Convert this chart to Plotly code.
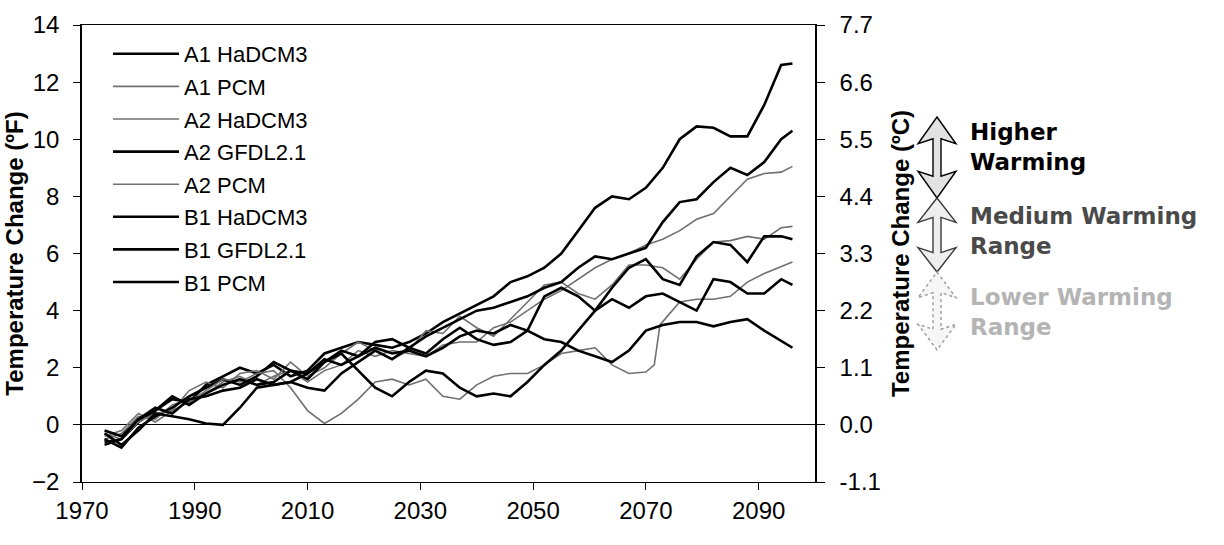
import plotly.graph_objects as go

# ---------------- data ----------------
YEARS = [1974, 1977, 1980, 1983, 1986, 1989, 1992, 1995, 1998, 2001, 2004, 2007,
         2010, 2013, 2016, 2019, 2022, 2025, 2028, 2031, 2034, 2037, 2040, 2043,
         2046, 2049, 2052, 2055, 2058, 2061, 2064, 2067, 2070, 2073, 2076, 2079,
         2082, 2085, 2088, 2091, 2094, 2096]

A1_HADCM3 = [-0.7, -0.5, 0.1, 0.5, 0.9, 0.8, 1.4, 1.7, 2.0, 1.8, 2.1, 1.7, 1.9, 2.5,
             2.7, 2.9, 2.8, 2.7, 2.9, 3.2, 3.6, 3.9, 4.2, 4.5, 5.0, 5.2, 5.5, 6.0,
             6.8, 7.6, 8.0, 7.9, 8.3, 9.0, 10.0, 10.45, 10.4, 10.1, 10.1, 11.2, 12.6, 12.65]

A1_PCM = [-0.4, -0.2, 0.4, 0.1, 0.5, 1.2, 1.5, 1.3, 1.8, 1.9, 1.6, 2.2, 1.7, 2.0,
          2.5, 2.9, 2.6, 2.3, 2.6, 3.3, 3.2, 3.8, 3.4, 3.1, 3.7, 4.3, 4.9, 5.0,
          4.6, 4.4, 4.9, 5.6, 5.6, 5.5, 5.1, 5.8, 6.4, 6.45, 6.6, 6.5, 6.9, 6.95]

A2_HADCM3 = [-0.5, -0.3, 0.3, 0.2, 0.7, 0.9, 1.1, 1.5, 1.7, 1.4, 1.7, 1.9, 1.5, 1.9,
             2.1, 2.6, 2.4, 2.6, 2.5, 2.4, 2.8, 2.9, 2.9, 3.4, 3.6, 4.0, 4.4, 4.7,
             5.1, 5.5, 5.8, 6.0, 6.3, 6.5, 6.8, 7.2, 7.4, 8.0, 8.6, 8.8, 8.85, 9.05]

A2_GFDL21 = [-0.5, -0.8, -0.1, 0.3, 0.6, 1.0, 1.3, 1.6, 1.4, 1.7, 2.2, 1.9, 1.6, 2.2,
             2.6, 2.4, 2.9, 3.0, 2.7, 3.1, 3.4, 3.7, 4.0, 4.1, 4.3, 4.5, 4.8, 5.0,
             5.5, 5.9, 5.8, 6.0, 6.2, 7.1, 7.8, 7.9, 8.5, 9.0, 8.75, 9.2, 10.0, 10.3]

A2_PCM_YEARS = [1974, 1977, 1980, 1983, 1986, 1989, 1992, 1995, 1998, 2001, 2004, 2007,
                2010, 2013, 2016, 2019, 2022, 2025, 2028, 2031, 2034, 2037, 2040, 2043,
                2046, 2049, 2052, 2055, 2058, 2061, 2064, 2067, 2070, 2071.5, 2072.5,
                2076, 2079, 2082, 2085, 2088, 2091, 2094, 2096]
A2_PCM = [-0.3, -0.5, 0.1, 0.4, 0.5, 0.8, 1.2, 1.6, 1.5, 1.8, 1.9, 1.3, 0.5, 0.05,
          0.4, 0.9, 1.5, 1.6, 1.4, 1.6, 1.0, 0.9, 1.4, 1.7, 1.8, 1.8, 2.1, 2.5,
          2.6, 2.7, 2.1, 1.8, 1.85, 2.1, 3.5, 4.3, 4.4, 4.4, 4.5, 5.0, 5.3, 5.55, 5.7]

B1_HADCM3 = [-0.2, -0.4, 0.2, 0.6, 0.4, 0.9, 1.0, 1.2, 1.3, 1.6, 1.4, 1.5, 1.8, 2.2,
             2.5, 1.9, 1.3, 1.0, 1.5, 1.9, 1.8, 1.3, 1.0, 1.1, 1.0, 1.5, 2.1, 2.6,
             3.3, 4.0, 4.8, 5.5, 5.8, 5.1, 4.9, 5.9, 6.4, 6.3, 5.7, 6.6, 6.6, 6.5]

B1_GFDL21 = [-0.3, -0.7, -0.2, 0.4, 0.3, 0.2, 0.05, 0.0, 0.6, 1.3, 1.4, 1.5, 1.3, 1.2,
             1.8, 2.2, 2.6, 2.3, 2.7, 2.5, 3.0, 3.4, 3.0, 2.8, 2.9, 3.3, 4.5, 4.8,
             4.5, 4.0, 4.4, 4.1, 4.5, 4.6, 4.3, 4.0, 5.1, 5.0, 4.6, 4.6, 5.1, 4.9]

B1_PCM = [-0.6, -0.5, 0.2, 0.5, 1.0, 0.7, 1.1, 1.4, 1.6, 1.4, 1.5, 1.9, 1.8, 2.3,
          2.1, 2.4, 2.7, 2.5, 2.6, 2.4, 2.7, 3.1, 3.3, 3.2, 3.5, 3.3, 3.0, 2.9,
          2.6, 2.4, 2.2, 2.6, 3.3, 3.5, 3.6, 3.6, 3.45, 3.6, 3.7, 3.3, 2.95, 2.7]

SERIES_NAMES = ["A1 HaDCM3", "A1 PCM", "A2 HaDCM3", "A2 GFDL2.1",
                "A2 PCM", "B1 HaDCM3", "B1 GFDL2.1", "B1 PCM"]
SERIES_X = [YEARS, YEARS, YEARS, YEARS, A2_PCM_YEARS, YEARS, YEARS, YEARS]
SERIES_Y = [A1_HADCM3, A1_PCM, A2_HADCM3, A2_GFDL21, A2_PCM, B1_HADCM3, B1_GFDL21, B1_PCM]
SERIES_THIN = [False, True, True, False, True, False, False, False]

X_TICKS = [1970, 1990, 2010, 2030, 2050, 2070, 2090]
F_TICKS = [-2, 0, 2, 4, 6, 8, 10, 12, 14]
C_LABELS = ["-1.1", "0.0", "1.1", "2.2", "3.3", "4.4", "5.5", "6.6", "7.7"]

RANGE_LABELS = [("Higher<br>Warming", "#000000"),
                ("Medium Warming<br>Range", "#4a4a4a"),
                ("Lower Warming<br>Range", "#b4b4b4")]

# ---------------- layout geometry (pixels) ----------------
W, H = 1224, 545
L, R, T, B = 82, 409, 25, 63
PW, PH = W - L - R, H - T - B


def px(x):
    return (x - L) / PW


def py(y):
    return (H - B - y) / PH


fig = go.Figure()
for name, xs, ys, thin in zip(SERIES_NAMES, SERIES_X, SERIES_Y, SERIES_THIN):
    fig.add_trace(go.Scatter(
        x=xs, y=ys, mode="lines", name=name, legendgroup=name,
        line=dict(color="#707070" if thin else "#000000",
                  width=1.6 if thin else 2.6),
    ))

# carrier for the right-hand (°C) axis: same values, invisible
fig.add_trace(go.Scatter(x=YEARS, y=A1_HADCM3, yaxis="y2", mode="lines",
                         line=dict(color="rgba(0,0,0,0)", width=0),
                         showlegend=False, hoverinfo="skip"))

FAM = "Liberation Sans, Arial, sans-serif"
TICKFONT = dict(family=FAM, size=24, color="#000000")
TITLEFONT = dict(family=FAM, size=24, color="#000000", weight="bold")

fig.update_layout(
    width=W, height=H,
    margin=dict(l=L, r=R, t=T, b=B, pad=0),
    paper_bgcolor="white", plot_bgcolor="white",
    showlegend=True,
    legend=dict(x=px(108), y=py(33), xanchor="left", yanchor="top",
                font=dict(family=FAM, size=22, color="#000000"),
                bgcolor="rgba(0,0,0,0)", traceorder="grouped", tracegroupgap=1,
                itemwidth=66),
    xaxis=dict(range=[1970, 2100], tickvals=X_TICKS, ticks="outside", ticklen=7,
               tickcolor="#000", showline=True, linecolor="#000", linewidth=1.3,
               mirror=True, showgrid=False, zeroline=False, tickfont=TICKFONT),
    yaxis=dict(range=[-2, 14], tickvals=F_TICKS, ticks="outside", ticklen=7,
               tickcolor="#000", showline=True, linecolor="#000", linewidth=1.5,
               showgrid=False, zeroline=True, zerolinecolor="#000", zerolinewidth=1.3,
               tickfont=TICKFONT, ticklabelstandoff=9,
               title=dict(text="Temperature Change (ºF)", font=TITLEFONT, standoff=2)),
    yaxis2=dict(range=[-2, 14], overlaying="y", side="right", anchor="x",
                tickvals=F_TICKS, ticktext=C_LABELS, ticks="outside", ticklen=8,
                tickcolor="#000", showline=True, linecolor="#000", linewidth=1.5,
                showgrid=False, zeroline=False, tickfont=TICKFONT, ticklabelstandoff=10,
                title=dict(text="Temperature Change (ºC)", font=TITLEFONT, standoff=12)),
)

# ---------------- warming range arrows (decoration) ----------------
ARROWS = [(117, 198, "#e2e2e2", "#000000", "solid"),
          (198, 272, "#eeeeee", "#3a3a3a", "solid"),
          (272, 350, "#f6f6f6", "#9a9a9a", "dot")]
cx, hw, sw = 937, 19, 4
for top, bot, fill, edge, dash in ARROWS:
    hl = (bot - top) * 0.33
    pts = [(cx, top), (cx + hw, top + hl), (cx + sw, top + hl - 5),
           (cx + sw, bot - hl + 5), (cx + hw, bot - hl), (cx, bot),
           (cx - hw, bot - hl), (cx - sw, bot - hl + 5), (cx - sw, top + hl - 5),
           (cx - hw, top + hl)]
    path = "M " + " L ".join(f"{px(a):.5f},{py(b):.5f}" for a, b in pts) + " Z"
    fig.add_shape(type="path", path=path, xref="paper", yref="paper",
                  fillcolor=fill, line=dict(color=edge, width=1.4, dash=dash),
                  layer="above")

for (text, color), ymid in zip(RANGE_LABELS, [147, 231, 312]):
    fig.add_annotation(x=px(968), y=py(ymid), xref="paper", yref="paper",
                       text=text, showarrow=False, xanchor="left", yanchor="middle",
                       align="left",
                       font=dict(family="DejaVu Sans, Verdana, sans-serif", size=23,
                                 color=color, weight="bold"))

fig.write_html("out.html")
